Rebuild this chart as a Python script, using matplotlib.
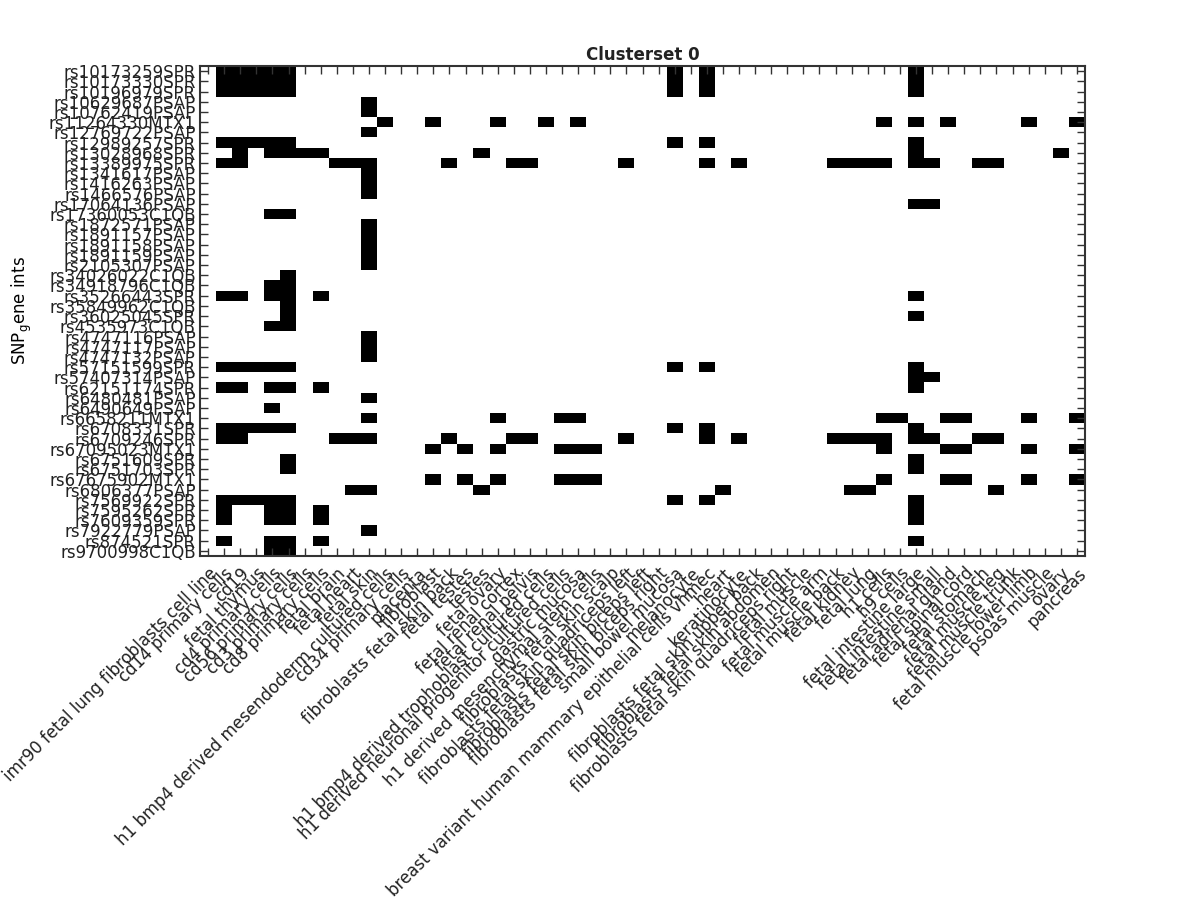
import numpy as np
import matplotlib
matplotlib.use("Agg")
import matplotlib.pyplot as plt

# ------------------------------------------------------------
# data
# ------------------------------------------------------------
snps = [
    "rs10173259SPR", "rs10173330SPR", "rs10196979SPR", "rs10629687PSAP",
    "rs10762419PSAP", "rs11264330MTX1", "rs12769722PSAP", "rs12989257SPR",
    "rs13028968SPR", "rs13389975SPR", "rs1341617PSAP", "rs1416263PSAP",
    "rs1466576PSAP", "rs17064136PSAP", "rs17360053C1QB", "rs1872571PSAP",
    "rs1891157PSAP", "rs1891158PSAP", "rs1891159PSAP", "rs2105307PSAP",
    "rs34026022C1QB", "rs34918796C1QB", "rs35266443SPR", "rs35849962C1QB",
    "rs36025045SPR", "rs4535973C1QB", "rs4747116PSAP", "rs4747117PSAP",
    "rs4747132PSAP", "rs57151599SPR", "rs57407314PSAP", "rs62151174SPR",
    "rs6480481PSAP", "rs6490649PSAP", "rs6658211MTX1", "rs6708331SPR",
    "rs6709246SPR", "rs67095023MTX1", "rs6751609SPR", "rs6751703SPR",
    "rs67675902MTX1", "rs6806377PSAP", "rs7569922SPR", "rs7595262SPR",
    "rs7609359SPR", "rs7922779PSAP", "rs874521SPR", "rs9700998C1QB",
]

tissues = [
    "imr90 fetal lung fibroblasts cell line", "cd14 primary cells", "cd19",
    "fetal thymus", "cd4 primary cells", "cd56 primary cells", "cd3 primary cells",
    "cd8 primary cells", "fetal brain", "fetal heart", "fetal skin",
    "h1 bmp4 derived mesendoderm cultured cells", "cd34 primary cells",
    "placenta", "fibroblast", "fibroblasts fetal skin back", "fetal testes", "testes",
    "fetal ovary", "fetal renal cortex", "fetal renal pelvis",
    "h1 bmp4 derived trophoblast cultured cells",
    "h1 derived neuronal progenitor cultured cells", "gastric mucosa",
    "h1 derived mesenchymal stem cells", "fibroblasts fetal skin scalp",
    "fibroblasts fetal skin quadriceps left", "fibroblasts fetal skin biceps left",
    "fibroblasts fetal skin biceps right", "small bowel mucosa", "melanocyte",
    "breast variant human mammary epithelial cells vhmec", "heart", "keratinocyte",
    "fibroblasts fetal skin upper back", "fibroblasts fetal skin abdomen",
    "fibroblasts fetal skin quadriceps right", "fetal muscle", "fetal muscle arm",
    "fetal muscle back", "fetal kidney", "fetal lung", "h1 cells", "h9 cells",
    "fetal intestine large", "fetal intestine small", "fetal adrenal gland",
    "fetal spinal cord", "fetal stomach", "fetal muscle leg", "fetal muscle trunk",
    "fetal muscle lower limb", "psoas muscle", "ovary", "pancreas",
]

# column indices (into tissues) that are "on" for each SNP, same order as snps
hits = [
    [1, 2, 3, 4, 5, 29, 31, 44],
    [1, 2, 3, 4, 5, 29, 31, 44],
    [1, 2, 3, 4, 5, 29, 31, 44],
    [10],
    [10],
    [11, 14, 18, 21, 23, 42, 44, 46, 51, 54],
    [10],
    [1, 2, 3, 4, 5, 29, 31, 44],
    [2, 4, 5, 6, 7, 17, 44, 53],
    [1, 2, 8, 9, 10, 15, 19, 20, 26, 31, 33, 39, 40, 41, 42, 44, 45, 48, 49],
    [10],
    [10],
    [10],
    [44, 45],
    [4, 5],
    [10],
    [10],
    [10],
    [10],
    [10],
    [5],
    [4, 5],
    [1, 2, 4, 5, 7, 44],
    [5],
    [5, 44],
    [4, 5],
    [10],
    [10],
    [10],
    [1, 2, 3, 4, 5, 29, 31, 44],
    [44, 45],
    [1, 2, 4, 5, 7, 44],
    [10],
    [4],
    [10, 18, 22, 23, 42, 43, 46, 47, 51, 54],
    [1, 2, 3, 4, 5, 29, 31, 44],
    [1, 2, 8, 9, 10, 15, 19, 20, 26, 31, 33, 39, 40, 41, 42, 44, 45, 48, 49],
    [14, 16, 18, 22, 23, 24, 42, 46, 47, 51, 54],
    [5, 44],
    [5, 44],
    [14, 16, 18, 22, 23, 24, 42, 46, 47, 51, 54],
    [9, 10, 17, 32, 40, 41, 49],
    [1, 2, 3, 4, 5, 29, 31, 44],
    [1, 4, 5, 7, 44],
    [1, 4, 5, 7, 44],
    [10],
    [1, 4, 5, 7, 44],
    [4, 5],
]

matrix = np.zeros((len(snps), len(tissues)))
for i, cols in enumerate(hits):
    matrix[i, cols] = 1

# ------------------------------------------------------------
# plot
# ------------------------------------------------------------
plt.rcParams["font.family"] = ["DejaVu Sans"]
plt.rcParams["font.size"] = 12
plt.rcParams["text.color"] = "#222222"
plt.rcParams["xtick.color"] = "#333333"
plt.rcParams["ytick.color"] = "#333333"
plt.rcParams["xtick.labelcolor"] = "#222222"
plt.rcParams["ytick.labelcolor"] = "#222222"

fig = plt.figure(figsize=(12, 9), dpi=100)
ax = fig.add_axes([200 / 1200, 1 - 556 / 900, 885 / 1200, 490 / 900])

ax.imshow(matrix, cmap="binary", interpolation="nearest", aspect="auto", vmin=0, vmax=1)

ax.set_xticks(np.arange(len(tissues)))
ax.set_xticklabels(tissues, rotation=45, ha="right", va="top",
                   rotation_mode="anchor", fontsize=12)
ax.set_yticks(np.arange(len(snps)))
ax.set_yticklabels(snps, fontsize=12)

ax.tick_params(direction="in", length=6, width=1, top=True, right=True, pad=3)
ax.tick_params(axis="x", pad=6)
for s in ax.spines.values():
    s.set_linewidth(1.5)
    s.set_color("#333333")

ax.set_title("Clusterset 0", fontsize=12, fontweight="bold", pad=4)
ax.set_ylabel(r"SNP$_{\mathregular{g}}$ene ints", fontsize=12)
ax.yaxis.set_label_coords(-0.188, 0.5)

fig.savefig("out.png", dpi=100)
